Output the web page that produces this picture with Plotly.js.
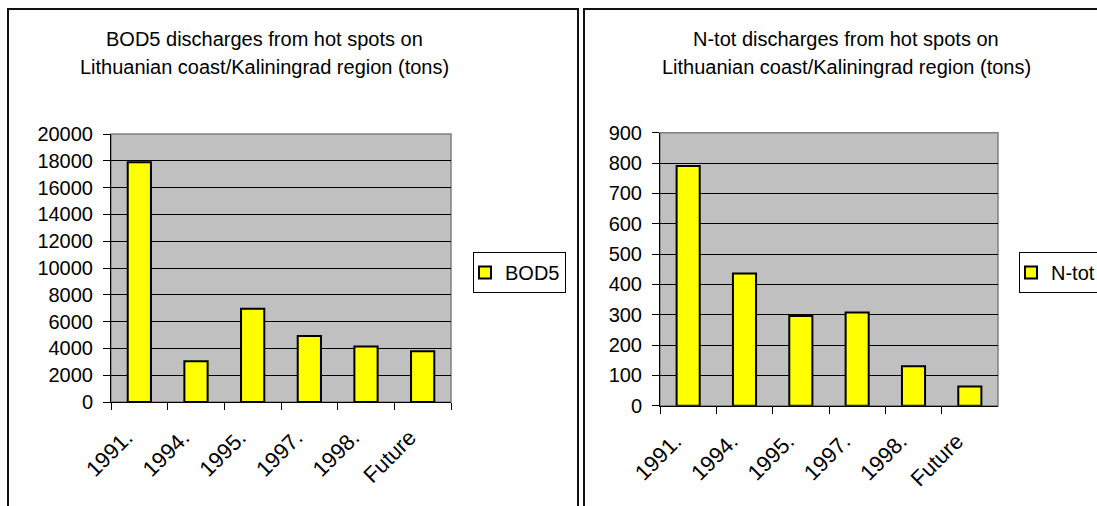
<!DOCTYPE html>
<html>
<head>
<meta charset="utf-8">
<script src="https://cdn.plot.ly/plotly-3.0.1.min.js"></script>
<style>html,body{margin:0;padding:0;background:#fff}#chart{width:1097px;height:506px}</style>
</head>
<body>
<div id="chart"></div>
<script>
const categories = ["1991.", "1994.", "1995.", "1997.", "1998.", "Future"];
const bod5Values = [17900, 3050, 6950, 4920, 4150, 3780];
const ntotValues = [790, 436, 296, 307, 130, 63];
const bodTitle = ["BOD5 discharges from hot spots on", "Lithuanian coast/Kaliningrad region (tons)"];
const ntotTitle = ["N-tot discharges from hot spots on", "Lithuanian coast/Kaliningrad region (tons)"];

const W = 1097, H = 506;
const px = x => x / W;
const py = y => 1 - y / H;
const FONT = "Liberation Sans, Arial, sans-serif";
const FS = 20;

const barStyle = {color: "#ffff00", line: {color: "#000", width: 2}};
const traces = [
  {type: "bar", name: "BOD5", x: categories, y: bod5Values, xaxis: "x", yaxis: "y", width: 0.41, marker: barStyle, legend: "legend", showlegend: true},
  {type: "bar", name: "N-tot", x: categories, y: ntotValues, xaxis: "x2", yaxis: "y2", width: 0.41, marker: barStyle, legend: "legend2", showlegend: true}
];

const xBase = {type: "category", showline: true, linecolor: "#000", linewidth: 1, ticks: "outside", tickson: "boundaries", ticklen: 7, tickcolor: "#000", tickangle: -45, ticklabelstandoff: 13, ticklabelshift: -13, showgrid: false, tickfont: {family: FONT, size: 22, color: "#000"}, fixedrange: true};
const yBase = {showline: true, linecolor: "#000", linewidth: 1, ticks: "outside", ticklen: 7, tickcolor: "#000", ticklabelstandoff: 6, showgrid: true, gridcolor: "#000", gridwidth: 1, zeroline: false, tickformat: "d", tickfont: {family: FONT, size: FS, color: "#000"}, fixedrange: true};

const legendBase = {visible: true, bordercolor: "#000", borderwidth: 1, bgcolor: "#fff", font: {family: FONT, size: FS, color: "#000"}, xanchor: "left", yanchor: "top", itemwidth: 30, indentation: -9, tracegroupgap: 0};

const layout = {
  width: W, height: H,
  margin: {l: 0, r: 0, t: 0, b: 0, autoexpand: false},
  showlegend: true,
  paper_bgcolor: "#fff",
  plot_bgcolor: "#c0c0c0",
  font: {family: FONT, size: FS, color: "#000"},
  xaxis: Object.assign({}, xBase, {domain: [px(111), px(451)], anchor: "y"}),
  yaxis: Object.assign({}, yBase, {domain: [py(402), py(134)], range: [0, 20000], dtick: 2000, anchor: "x"}),
  xaxis2: Object.assign({}, xBase, {domain: [px(660), px(998)], anchor: "y2"}),
  yaxis2: Object.assign({}, yBase, {domain: [py(405.7), py(132.7)], range: [0, 900], dtick: 100, anchor: "x2"}),
  legend: Object.assign({}, legendBase, {x: px(473), y: py(252)}),
  legend2: Object.assign({}, legendBase, {x: px(1019), y: py(252)}),
  annotations: [
    {text: bodTitle[0], x: px(264), y: py(39), xref: "paper", yref: "paper", showarrow: false, xanchor: "center", yanchor: "middle", font: {family: FONT, size: FS}},
    {text: bodTitle[1], x: px(264), y: py(67), xref: "paper", yref: "paper", showarrow: false, xanchor: "center", yanchor: "middle", font: {family: FONT, size: FS}},
    {text: ntotTitle[0], x: px(846), y: py(39), xref: "paper", yref: "paper", showarrow: false, xanchor: "center", yanchor: "middle", font: {family: FONT, size: FS}},
    {text: ntotTitle[1], x: px(846), y: py(67), xref: "paper", yref: "paper", showarrow: false, xanchor: "center", yanchor: "middle", font: {family: FONT, size: FS}}
  ],
  shapes: [
    {type: "rect", xref: "paper", yref: "paper", x0: px(111), x1: px(451), y0: py(402), y1: py(134), line: {color: "#808080", width: 1.5}, layer: "below"},
    {type: "rect", xref: "paper", yref: "paper", x0: px(660), x1: px(998), y0: py(405.7), y1: py(132.7), line: {color: "#808080", width: 1.5}, layer: "below"},
    {type: "path", xref: "paper", yref: "paper", path: `M ${px(8)} 0 L ${px(8)} ${py(9)} L ${px(578)} ${py(9)} L ${px(578)} 0`, line: {color: "#111", width: 2}},
    {type: "path", xref: "paper", yref: "paper", path: `M ${px(584)} 0 L ${px(584)} ${py(9)} L 1 ${py(9)}`, line: {color: "#111", width: 2}}
  ]
};

Plotly.newPlot("chart", traces, layout, {displayModeBar: false, staticPlot: true});
</script>
</body>
</html>
